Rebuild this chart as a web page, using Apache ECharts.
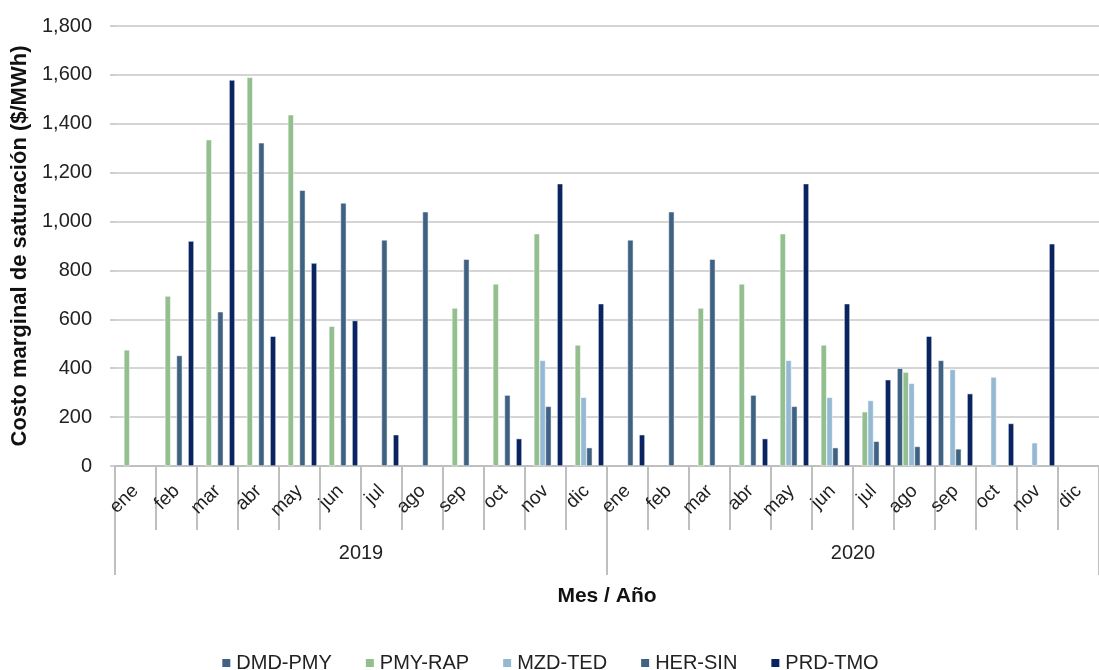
<!DOCTYPE html>
<html>
<head>
<meta charset="utf-8">
<script src="https://cdn.jsdelivr.net/npm/echarts@6/dist/echarts.min.js"></script>
<style>html,body{margin:0;padding:0;background:#fff}#c{width:1099px;height:670px}</style>
</head>
<body>
<div id="c"></div>
<script>
const months = ['ene','feb','mar','abr','may','jun','jul','ago','sep','oct','nov','dic',
                'ene','feb','mar','abr','may','jun','jul','ago','sep','oct','nov','dic'];
const years = ['2019','2020'];
const yTicks = [0,200,400,600,800,1000,1200,1400,1600,1800];
const _ = null;
const dmdPmy = [_,_,_,_,_,_,_,_,_,_,_,_, _,_,_,_,_,_,_,400,432,_,_,_];
const pmyRap = [475,695,1335,1590,1437,572,_,_,646,745,950,495, _,_,646,745,950,495,222,384,_,_,_,_];
const mzdTed = [_,_,_,_,_,_,_,_,_,_,432,281, _,_,_,_,432,281,268,338,395,364,95,_];
const herSin = [_,452,631,1322,1128,1076,925,1040,846,290,244,75, 925,1040,846,290,244,75,101,80,70,_,_,_];
const emptySeries = [_,_,_,_,_,_,_,_,_,_,_,_, _,_,_,_,_,_,_,_,_,_,_,_];
const prdTmo = [_,920,1579,531,830,595,128,_,_,112,1155,664, 128,_,_,112,1155,664,353,531,296,174,909,_];
const seriesNames = ['DMD-PMY','PMY-RAP','MZD-TED','HER-SIN','PRD-TMO'];

const FONT = "'Liberation Sans Narrow','Arial Narrow','Liberation Sans',Arial,sans-serif";
const colors = {'DMD-PMY':'#3f6282','PMY-RAP':'#93bf8e','MZD-TED':'#95b9d3','HER-SIN':'#3f6282','PRD-TMO':'#0a2361'};

function bar(name, data){
  return {name:name, type:'bar', data:data, barGap:'0%', barCategoryGap:'15%',
    itemStyle:{color: colors[name] || 'transparent', borderColor:'#ffffff', borderWidth:0.5},
    xAxisIndex:0, yAxisIndex:0};
}

const chart = echarts.init(document.getElementById('c'), null, {renderer:'canvas'});
chart.setOption({
  animation:false,
  textStyle:{fontFamily:FONT},
  grid:{left:115, right:0, top:26, bottom:204, containLabel:false},
  legend:{data:seriesNames, top:648, left:'center', icon:'rect', itemWidth:10, itemHeight:10, itemGap:32,
    textStyle:{fontFamily:FONT, fontSize:20, color:'#222'}},
  xAxis:[
    {type:'category', data:months, position:'bottom',
     axisLine:{show:true, lineStyle:{color:'#bfbfbf', width:2}},
     axisTick:{show:true, interval:0, length:64, lineStyle:{color:'#bfbfbf', width:2}},
     axisLabel:{interval:0, rotate:45, margin:22, fontSize:19, color:'#222', fontFamily:FONT}},
    {type:'category', data:years, position:'bottom', gridIndex:0,
     axisLine:{show:false},
     axisTick:{show:true, length:109, lineStyle:{color:'#bfbfbf', width:2}},
     axisLabel:{margin:77, fontSize:20, color:'#222', fontFamily:FONT},
     name:'Mes / Año', nameLocation:'middle', nameGap:120,
     nameTextStyle:{fontSize:21, fontWeight:'bold', color:'#111', fontFamily:FONT}}
  ],
  yAxis:{type:'value', min:yTicks[0], max:yTicks[yTicks.length-1], interval:200,
    axisLine:{show:false},
    axisTick:{show:true, length:5, lineStyle:{color:'#bfbfbf', width:1.5}},
    splitLine:{lineStyle:{color:'#d4d4d4', width:2}},
    axisLabel:{margin:23, fontSize:20, color:'#222', fontFamily:FONT,
      formatter:v=>v.toLocaleString('en-US')},
    name:'Costo marginal de saturación ($/MWh)', nameLocation:'middle', nameGap:84,
    nameTextStyle:{fontSize:22, fontWeight:'bold', color:'#111', fontFamily:FONT}},
  series:[
    bar('DMD-PMY', dmdPmy),
    bar('PMY-RAP', pmyRap),
    bar('MZD-TED', mzdTed),
    bar('HER-SIN', herSin),
    bar('', emptySeries),
    bar('PRD-TMO', prdTmo)
  ]
});
</script>
</body>
</html>
